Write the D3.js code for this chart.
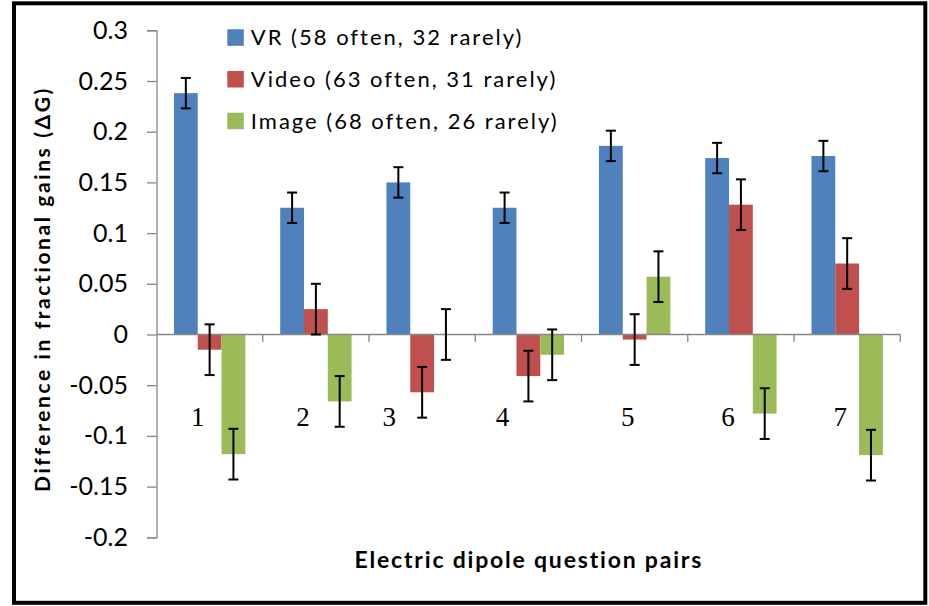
<!DOCTYPE html>
<html>
<head>
<meta charset="utf-8">
<script src="https://cdn.jsdelivr.net/npm/d3@7"></script>
<style>
  body { margin: 0; background: #fff; }
  svg { display: block; }
  text { font-family: Lato, "Open Sans", sans-serif; fill: #000; }
</style>
</head>
<body>
<svg width="929" height="606"></svg>
<script>
var categories = ["1", "2", "3", "4", "5", "6", "7"];
var seriesNames = ["VR (58 often, 32 rarely)", "Video (63 often, 31 rarely)", "Image (68 often, 26 rarely)"];
var vrValues = [0.238, 0.125, 0.150, 0.125, 0.186, 0.174, 0.176];
var videoValues = [-0.015, 0.025, -0.057, -0.041, -0.005, 0.128, 0.070];
var imageValues = [-0.118, -0.066, 0.000, -0.020, 0.057, -0.078, -0.119];
var vrErrors = [0.015, 0.015, 0.015, 0.015, 0.015, 0.015, 0.015];
var videoErrors = [0.025, 0.025, 0.025, 0.025, 0.025, 0.025, 0.025];
var imageErrors = [0.025, 0.025, 0.025, 0.025, 0.025, 0.025, 0.025];
var yTicks = [0.3, 0.25, 0.2, 0.15, 0.1, 0.05, 0, -0.05, -0.1, -0.15, -0.2];

// category numbers were placed by hand in the original, so nudge them a bit
var labelNudge = [-12, -13, -33, -26, -7, -13, -7];

var colors = ["#4F81BD", "#C0504D", "#9BBB59"];
var values = [vrValues, videoValues, imageValues];
var errors = [vrErrors, videoErrors, imageErrors];

var svg = d3.select("svg");

// outer frame
svg.append("rect")
  .attr("x", 14).attr("y", 3.3)
  .attr("width", 911.3).attr("height", 599.5)
  .attr("fill", "none")
  .attr("stroke", "#000")
  .attr("stroke-width", 4);

var x0 = d3.scaleBand().domain(categories).range([156.5, 900.3]).padding(0);
var x1 = d3.scaleBand().domain(d3.range(seriesNames.length))
  .range([0, x0.bandwidth()]).paddingInner(0).paddingOuter(0.733);
var y = d3.scaleLinear().domain([-0.2, 0.3]).range([537.3, 30.3]);

var data = [];
categories.forEach(function(c, i) {
  seriesNames.forEach(function(s, j) {
    data.push({cat: c, s: j, value: values[j][i], err: errors[j][i]});
  });
});

// y axis
var yAxis = svg.append("g")
  .attr("transform", "translate(156.5,0)")
  .call(d3.axisLeft(y).tickValues(yTicks).tickSize(9.5).tickPadding(19)
    .tickFormat(function(d) { return String(+d.toFixed(2)); }));
yAxis.select(".domain").attr("stroke", "#868686").attr("stroke-width", 1.3);
yAxis.selectAll(".tick line").attr("stroke", "#868686").attr("stroke-width", 1.3);
yAxis.selectAll(".tick text")
  .style("font-size", "25px")
  .attr("fill", "#000");

// bars
svg.append("g").selectAll("rect")
  .data(data)
  .enter().append("rect")
  .attr("x", function(d) { return x0(d.cat) + x1(d.s); })
  .attr("y", function(d) { return y(Math.max(0, d.value)); })
  .attr("width", x1.bandwidth())
  .attr("height", function(d) { return Math.abs(y(d.value) - y(0)); })
  .attr("fill", function(d) { return colors[d.s]; });

// x axis on zero line
var xAxis = svg.append("g")
  .attr("transform", "translate(0," + y(0) + ")");
xAxis.append("line")
  .attr("x1", x0.range()[0]).attr("x2", x0.range()[1])
  .attr("stroke", "#868686").attr("stroke-width", 1.3);
xAxis.selectAll(".tk")
  .data(categories)
  .enter().append("line")
  .attr("class", "tk")
  .attr("x1", function(d) { return x0(d) + x0.bandwidth(); })
  .attr("x2", function(d) { return x0(d) + x0.bandwidth(); })
  .attr("y1", 0).attr("y2", 7.5)
  .attr("stroke", "#868686").attr("stroke-width", 1.3);

// error bars
var eb = svg.append("g").selectAll("g")
  .data(data)
  .enter().append("g")
  .attr("transform", function(d) { return "translate(" + (x0(d.cat) + x1(d.s) + x1.bandwidth() / 2) + ",0)"; })
  .attr("stroke", "#000")
  .attr("stroke-width", 2);
eb.append("line")
  .attr("y1", function(d) { return y(d.value + d.err); })
  .attr("y2", function(d) { return y(d.value - d.err); });
eb.append("line")
  .attr("x1", -5).attr("x2", 5)
  .attr("y1", function(d) { return y(d.value + d.err); })
  .attr("y2", function(d) { return y(d.value + d.err); });
eb.append("line")
  .attr("x1", -5).attr("x2", 5)
  .attr("y1", function(d) { return y(d.value - d.err); })
  .attr("y2", function(d) { return y(d.value - d.err); });

// category numbers
svg.append("g").selectAll("text")
  .data(categories)
  .enter().append("text")
  .attr("x", function(d, i) { return x0(d) + x0.bandwidth() / 2 + labelNudge[i]; })
  .attr("y", 425.5)
  .attr("text-anchor", "middle")
  .style("font-family", "'Liberation Serif', serif")
  .style("font-size", "27px")
  .text(function(d) { return d; });

// legend
var legend = svg.append("g").selectAll("g")
  .data(seriesNames)
  .enter().append("g")
  .attr("transform", function(d, i) { return "translate(227.3," + (29.3 + i * 41.7) + ")"; });
legend.append("rect")
  .attr("width", 16.5).attr("height", 16.5)
  .attr("fill", function(d, i) { return colors[i]; });
legend.append("text")
  .attr("x", 23.5).attr("y", 16)
  .style("font-size", "22px")
  .style("letter-spacing", "2px")
  .text(function(d) { return d; });

// axis titles
svg.append("text")
  .attr("transform", "translate(50,289) rotate(-90)")
  .attr("text-anchor", "middle")
  .style("font-size", "21px")
  .style("font-weight", "bold")
  .style("letter-spacing", "2.6px")
  .text("Difference in fractional gains (\u0394G)");

svg.append("text")
  .attr("x", 528.8).attr("y", 568)
  .attr("text-anchor", "middle")
  .style("font-size", "23px")
  .style("font-weight", "bold")
  .style("letter-spacing", "1.8px")
  .text("Electric dipole question pairs");
</script>
</body>
</html>
